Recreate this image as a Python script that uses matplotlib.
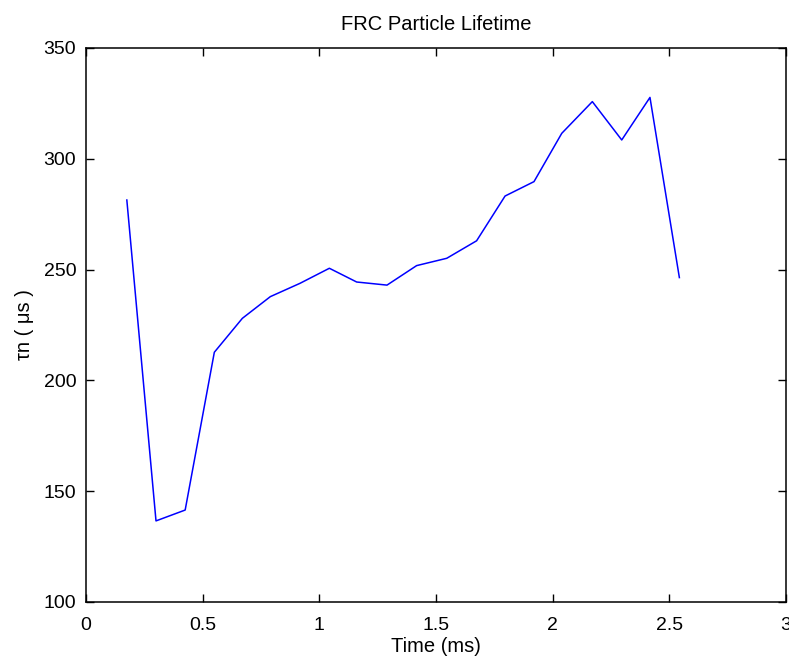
import matplotlib
matplotlib.use("Agg")
import matplotlib.pyplot as plt

plt.rcParams['font.family'] = ['Liberation Sans', 'DejaVu Sans']

# Sample times (ms) and particle lifetime (microseconds)
time_ms = [0.175, 0.30, 0.425, 0.55, 0.67, 0.79, 0.917, 1.043, 1.16, 1.29,
           1.417, 1.546, 1.674, 1.796, 1.92, 2.039, 2.17, 2.296, 2.417, 2.543]
tau_us = [281.4, 136.6, 141.5, 212.7, 228.0, 237.8, 243.8, 250.6, 244.4, 243.0,
          251.8, 255.1, 263.0, 283.2, 289.7, 311.5, 325.8, 308.5, 327.7, 246.4]

x_ticks = [0, 0.5, 1, 1.5, 2, 2.5, 3]
x_tick_labels = ['0', '0.5', '1', '1.5', '2', '2.5', '3']
y_ticks = [100, 150, 200, 250, 300, 350]

fig = plt.figure(figsize=(7.89, 6.59), dpi=100)
ax = fig.add_axes([86 / 789, 1 - 602 / 659, 700 / 789, 554 / 659])

ax.plot(time_ms, tau_us, color='#0000ff', linewidth=1.1)

ax.set_xlim(0, 3)
ax.set_ylim(100, 350)
ax.set_xticks(x_ticks)
ax.set_xticklabels(x_tick_labels)
ax.set_yticks(y_ticks)

ax.tick_params(direction='in', top=True, right=True, length=6, width=1,
               labelsize=14, colors='black')
ax.tick_params(axis='x', pad=11)
ax.tick_params(axis='y', pad=7)
for s in ax.spines.values():
    s.set_linewidth(1.1)
    s.set_color('black')

ax.set_title('FRC Particle Lifetime', fontsize=14.5, pad=13)
ax.set_xlabel('Time (ms)', fontsize=14.5, labelpad=2)
ax.set_ylabel('τn ( μs )', fontsize=14.5, labelpad=7)

fig.savefig('out.png', dpi=100)
